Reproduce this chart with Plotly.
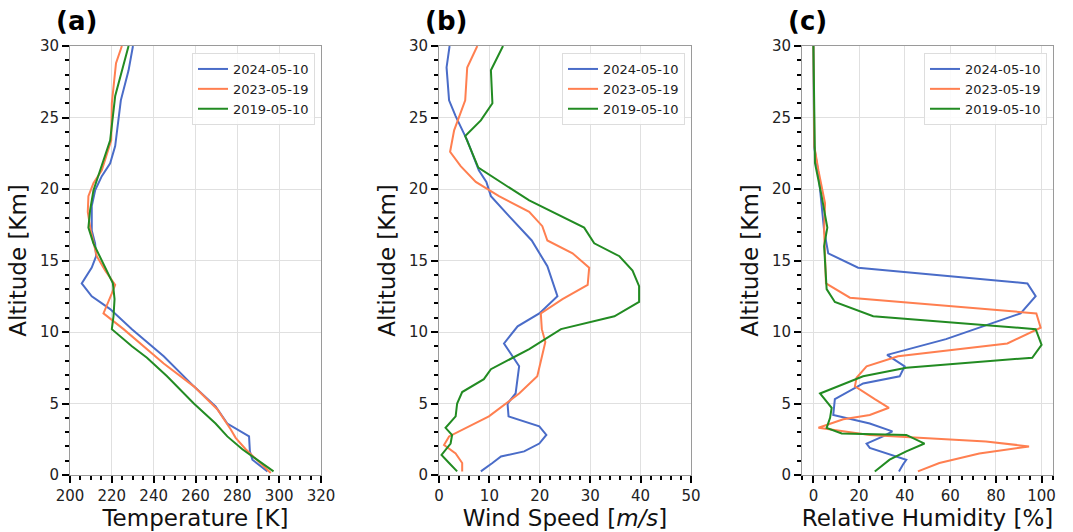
import plotly.graph_objects as go

labels = ["2024-05-10", "2023-05-19", "2019-05-10"]
colors = ["#4a6cc8", "#ff7f50", "#228b22"]

# Panel (a): Temperature [K]
temp_alt_2024 = [30, 28.3, 26.2, 23, 21.8, 20.9, 19.9, 18.8, 17.1, 16.2, 15.3, 14.5, 13.4, 12.5, 11.6, 10.2, 8.3, 6.2, 4.8, 3.6, 2.7, 1.65, 1.07, 0.25]
temp_2024 = [230.1, 228, 224.3, 221.6, 219.2, 215.2, 212, 210.4, 210.4, 212, 212.5, 210.4, 205.6, 210.4, 219.2, 229.6, 244.8, 259.2, 269.6, 275.2, 285.6, 286, 287.2, 294.4]
temp_alt_2023 = [30, 28.8, 26.0, 23.4, 21.3, 20.4, 19.5, 18.4, 17.1, 15.3, 14.3, 13.3, 12.7, 11.3, 10.2, 7.8, 6.2, 4.6, 3.2, 2.6, 1.8, 0.14]
temp_2023 = [224.8, 222, 220, 219.7, 215.2, 211.2, 208.8, 208.5, 209.9, 212.8, 216.8, 221.6, 220, 216, 225.6, 244.8, 259.2, 270.4, 276.8, 279.2, 284, 296]
temp_alt_2019 = [30, 28.3, 26.5, 23.4, 21.3, 19.9, 18.5, 17.3, 16.2, 14.8, 13.4, 12.3, 11.1, 10.2, 9.0, 8.2, 6.9, 5.0, 3.6, 2.7, 1.8, 0.25]
temp_2019 = [228, 224.8, 221.6, 219.2, 214.4, 211.2, 209.6, 208.8, 211.2, 216, 220.5, 221.3, 220.8, 220, 229.6, 236.8, 246.4, 259.2, 269.6, 275.2, 282.4, 297.3]

# Panel (b): Wind speed [m/s]
ws_alt_2024 = [30, 28.5, 26.2, 25.1, 23.4, 21.3, 20.5, 19.5, 18.1, 16.4, 14.6, 12.5, 11.3, 10.4, 9.2, 7.6, 5.7, 5.0, 4.1, 3.4, 2.8, 2.2, 1.65, 1.3, 0.84, 0.25]
ws_2024 = [2.1, 1.5, 2.0, 3.3, 5.6, 7.9, 9.4, 10.3, 13.9, 18.4, 21.5, 23.5, 19.9, 15.6, 12.9, 15.9, 15.2, 13.6, 13.8, 19.9, 21.3, 19.9, 16.9, 12.3, 10.6, 8.3]
ws_alt_2023 = [30, 28.5, 26.2, 24.1, 22.6, 21.6, 20.5, 19.5, 18.4, 17.4, 16.4, 15.5, 14.5, 13.3, 12.3, 11.3, 10.2, 9.3, 6.9, 5.7, 4.1, 3.4, 2.7, 2.1, 1.5, 0.84, 0.25]
ws_2023 = [7.6, 5.6, 5.2, 3.0, 2.2, 4.3, 7.3, 11.9, 17.9, 20.5, 21.5, 26.5, 29.8, 29.5, 24.5, 20.2, 20.4, 21.1, 19.5, 15.9, 9.9, 6.0, 2.0, 1.0, 3.3, 4.6, 4.6]
ws_alt_2019 = [30, 28.3, 26.0, 24.8, 23.7, 23.0, 21.5, 20.4, 19.2, 17.3, 16.2, 15.3, 14.3, 13.2, 12.1, 11.1, 10.2, 8.8, 7.4, 6.7, 5.8, 5.0, 4.1, 3.3, 2.8, 2.2, 1.4, 0.84, 0.25]
ws_2019 = [12.7, 10.3, 10.6, 8.3, 5.2, 6.0, 7.8, 12.6, 17.9, 28.8, 30.8, 35.8, 38.4, 39.7, 39.7, 34.8, 24.2, 17.9, 10.3, 8.9, 4.6, 3.6, 3.3, 1.3, 2.6, 2.3, 0.5, 2.0, 3.6]

# Panel (c): Relative humidity [%]
rh_alt_2024 = [30, 23, 21.1, 19, 17.1, 15.5, 14.5, 13.4, 12.5, 11.3, 9.5, 8.4, 7.6, 6.9, 6.4, 5.3, 4.2, 3.6, 3.05, 2.7, 2.2, 1.9, 1.4, 1.07, 0.72, 0.25]
rh_2024 = [0, 0.3, 2.2, 3.6, 4.7, 6.5, 19.6, 93.8, 97.4, 90.8, 58.1, 32.3, 40, 37.8, 21.8, 9.4, 8.7, 24.7, 34.6, 30.5, 23.3, 24.7, 34.9, 40.7, 39.2, 37.5]
rh_alt_2023 = [30, 23, 21.3, 19, 17.1, 13.4, 12.4, 11.3, 10.3, 9.2, 8.3, 7.6, 6.8, 6.2, 5.3, 4.7, 4.2, 3.9, 3.3, 2.8, 2.35, 2.0, 1.5, 0.84, 0.25]
rh_2023 = [0, 0.4, 2.2, 5.1, 4.7, 5.5, 16, 97.7, 99.6, 85, 37.1, 23.3, 18.9, 18.2, 26.9, 33.1, 24.7, 13.1, 2.2, 24.7, 75.6, 94.5, 72.7, 55.2, 45.8]
rh_alt_2019 = [30, 21.8, 19.5, 17.3, 16, 13, 12.1, 11.1, 10.2, 9.1, 8.2, 7.5, 6.9, 5.7, 4.7, 4.0, 3.3, 2.9, 2.8, 2.2, 1.65, 1.07, 0.25]
rh_2019 = [0, 0.7, 3.6, 6.1, 4.7, 5.8, 9.4, 26.2, 97.4, 100, 95.9, 40.7, 21.8, 2.9, 8, 7.3, 5.8, 12.4, 40.7, 48.7, 40.7, 33.4, 26.9]

panels = [
    ([temp_2024, temp_2023, temp_2019], [temp_alt_2024, temp_alt_2023, temp_alt_2019]),
    ([ws_2024, ws_2023, ws_2019], [ws_alt_2024, ws_alt_2023, ws_alt_2019]),
    ([rh_2024, rh_2023, rh_2019], [rh_alt_2024, rh_alt_2023, rh_alt_2019]),
]
panel_tags = ["(a)", "(b)", "(c)"]
x_titles = ["Temperature [K]", "Wind Speed [<i>m/s</i>]", "Relative Humidity [%]"]
x_ranges = [[200, 320], [0, 50], [-5, 105]]
x_dticks = [20, 10, 20]
x_minor = [5, 2, 5]
x_tick0 = [200, 0, 0]

domains = [[70 / 1073, 321 / 1073], [439 / 1073, 691 / 1073], [802 / 1073, 1053 / 1073]]
ydom = [1 - 475 / 532, 1 - 46 / 532]

FONT = "DejaVu Sans"
fig = go.Figure()

for p, (xs_list, ys_list) in enumerate(panels):
    sfx = "" if p == 0 else str(p + 1)
    leg = "legend" if p == 0 else f"legend{p + 1}"
    for k in range(3):
        fig.add_trace(go.Scatter(
            x=xs_list[k], y=ys_list[k], mode="lines", name=labels[k],
            line=dict(color=colors[k], width=2),
            xaxis="x" + sfx, yaxis="y" + sfx, legend=leg,
        ))
    axis_common = dict(
        showline=True, linecolor="#9a9a9a", linewidth=1, mirror=True,
        showgrid=True, gridcolor="#e0e0e0", gridwidth=1,
        ticks="outside", tickcolor="black", ticklen=7, tickwidth=1.5,
        tickfont=dict(family=FONT, size=15, color="#222"),
        zeroline=False, automargin=False,
    )
    fig.layout["xaxis" + sfx] = dict(
        axis_common, domain=domains[p], anchor="y" + sfx,
        range=x_ranges[p], dtick=x_dticks[p], tick0=x_tick0[p],
        minor=dict(dtick=x_minor[p], tick0=x_tick0[p], ticks="outside", ticklen=4, tickcolor="black", showgrid=False),
        title=dict(text=x_titles[p], font=dict(family=FONT, size=23, color="#111"), standoff=2),
    )
    fig.layout["yaxis" + sfx] = dict(
        axis_common, domain=ydom, anchor="x" + sfx,
        range=[0, 30], dtick=5,
        minor=dict(dtick=1, ticks="outside", ticklen=4, tickcolor="black", showgrid=False),
        title=dict(text="Altitude [Km]", font=dict(family=FONT, size=23, color="#111"), standoff=6),
    )
    fig.layout[leg] = dict(
        x=domains[p][1] - 6 / 1073, y=ydom[1] - 7 / 532, xanchor="right", yanchor="top",
        bgcolor="rgba(255,255,255,0.85)", bordercolor="#dddddd", borderwidth=1,
        font=dict(family=FONT, size=13, color="#222"),
        tracegroupgap=0, itemwidth=30,
    )
    fig.add_annotation(
        text="<b>" + panel_tags[p] + "</b>", xref="paper", yref="paper",
        x=domains[p][0] - 16 / 1073, y=1 - 4 / 532, xanchor="left", yanchor="top",
        showarrow=False, font=dict(family=FONT, size=26, color="black"),
    )

fig.update_layout(
    width=1073, height=532,
    margin=dict(l=0, r=0, t=0, b=0, autoexpand=False),
    paper_bgcolor="white", plot_bgcolor="white",
    showlegend=True,
)

fig.write_html(
    "out.html",
    config={"displayModeBar": False},
    post_script="document.body.style.margin='0';document.body.style.overflow='hidden';",
)
